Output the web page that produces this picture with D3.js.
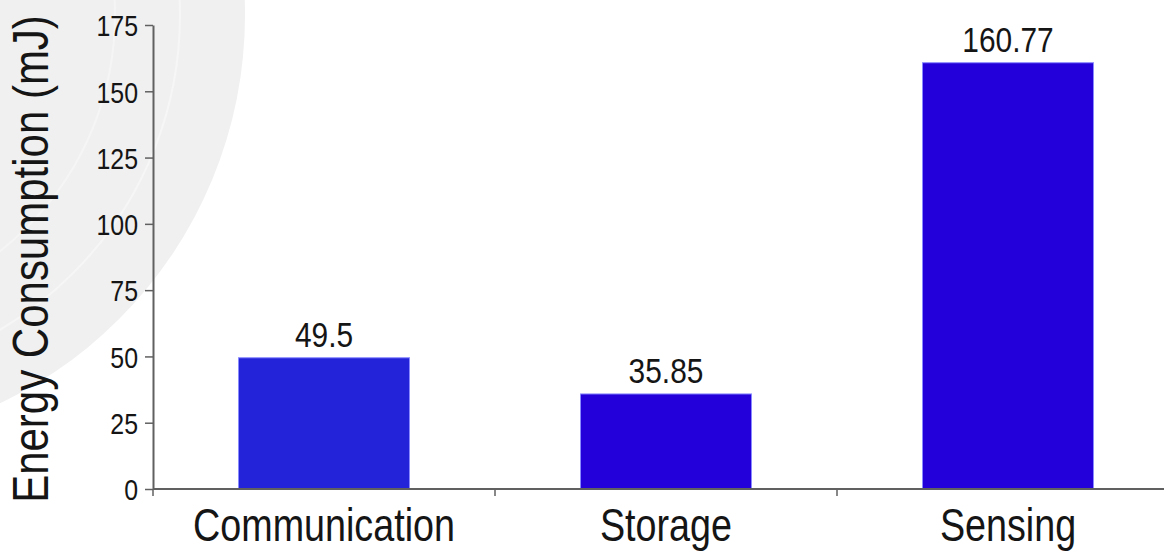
<!DOCTYPE html>
<html>
<head>
<meta charset="utf-8">
<script src="https://cdn.jsdelivr.net/npm/d3@7"></script>
<style>
  html, body { margin: 0; padding: 0; background: #ffffff; }
  svg { display: block; }
  text { font-family: "Liberation Sans", Arial, Helvetica, sans-serif; fill: #151515; }
</style>
</head>
<body>
<svg id="chart" width="1164" height="552"></svg>
<script>
// Energy consumption per subsystem (mJ)
const categories = ["Communication", "Storage", "Sensing"];
const energy = [49.5, 35.85, 160.77];
const valueLabels = ["49.5", "35.85", "160.77"];
const barColors = ["#2323da", "#2300da", "#2300da"];
const yTicks = [0, 25, 50, 75, 100, 125, 150, 175];
const yTitle = "Energy Consumption (mJ)";

const W = 1164, H = 552;
const svg = d3.select("#chart");
const narrow = 0.83; // condensed type, as in Helvetica Narrow

// faint seal in the background
const seal = svg.append("g");
seal.append("circle")
  .attr("cx", -185).attr("cy", 15).attr("r", 430)
  .attr("fill", "#f0f0f0");
seal.append("circle")
  .attr("cx", -185).attr("cy", 15).attr("r", 365)
  .attr("fill", "none").attr("stroke", "#f6f6f6").attr("stroke-width", 2);
seal.append("circle")
  .attr("cx", -185).attr("cy", 15).attr("r", 300)
  .attr("fill", "none").attr("stroke", "#f5f5f5").attr("stroke-width", 2);

const y = d3.scaleLinear().domain([0, 175]).range([489, 25]);
const x = d3.scaleBand().domain(categories).range([153, 1179])
  .paddingInner(0.5).paddingOuter(0.25);

// bars
svg.append("g").selectAll("rect")
  .data(categories)
  .join("rect")
  .attr("x", d => x(d))
  .attr("width", x.bandwidth())
  .attr("y", (d, i) => y(energy[i]))
  .attr("height", (d, i) => y(0) - y(energy[i]))
  .attr("fill", (d, i) => barColors[i])
  .attr("stroke", "#8a8aff")
  .attr("stroke-width", 1);

// value labels above bars
svg.append("g").selectAll("text")
  .data(categories)
  .join("text")
  .attr("transform", (d, i) =>
    `translate(${x(d) + x.bandwidth() / 2},${y(energy[i]) - 11}) scale(${narrow},1)`)
  .attr("text-anchor", "middle")
  .style("font-size", "36px")
  .text((d, i) => valueLabels[i]);

// y axis
const yAxis = svg.append("g")
  .attr("transform", `translate(${x.range()[0]},0)`)
  .call(d3.axisLeft(y).tickValues(yTicks).tickSize(8).tickSizeOuter(0));
yAxis.attr("font-size", null).attr("font-family", null);
yAxis.select(".domain").attr("stroke", "#606060").attr("stroke-width", 2);
yAxis.selectAll(".tick line").attr("stroke", "#606060").attr("stroke-width", 1.5);
yAxis.selectAll(".tick text")
  .attr("x", null)
  .attr("transform", `translate(-15,0) scale(${narrow},1)`)
  .attr("dy", "0.36em")
  .attr("fill", "#151515")
  .style("font-size", "30px")
  .style("font-family", "'Liberation Sans', Arial, sans-serif");

// x axis: baseline with ticks at the category boundaries
const x0 = x.range()[0];
const xAxis = svg.append("g");
xAxis.append("line")
  .attr("x1", x0).attr("x2", W)
  .attr("y1", y(0)).attr("y2", y(0))
  .attr("stroke", "#606060").attr("stroke-width", 2);
xAxis.selectAll("line.sep")
  .data(d3.range(categories.length + 1))
  .join("line")
  .attr("class", "sep")
  .attr("x1", i => x0 + i * x.step()).attr("x2", i => x0 + i * x.step())
  .attr("y1", y(0)).attr("y2", y(0) + 7)
  .attr("stroke", "#606060").attr("stroke-width", 1.5);

// category labels
svg.append("g").selectAll("text")
  .data(categories)
  .join("text")
  .attr("transform", d => `translate(${x(d) + x.bandwidth() / 2},541) scale(0.82,1)`)
  .attr("text-anchor", "middle")
  .style("font-size", "46px")
  .text(d => d);

// y axis title
svg.append("text")
  .attr("transform", `translate(48,259) rotate(-90) scale(0.84,1)`)
  .attr("text-anchor", "middle")
  .style("font-size", "50px")
  .text(yTitle);
</script>
</body>
</html>
